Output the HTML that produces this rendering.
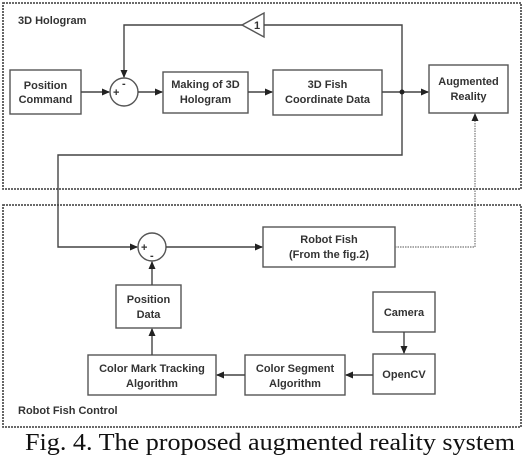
<!DOCTYPE html>
<html><head><meta charset="utf-8"><style>
html,body{margin:0;padding:0;background:#fff;}
svg{display:block;}
text{font-family:"Liberation Sans",Arial,sans-serif;font-weight:bold;font-size:11px;fill:#333;}
</style></head><body>
<svg width="524" height="456" viewBox="0 0 524 456" xmlns="http://www.w3.org/2000/svg">
<defs>
<marker id="a" markerWidth="8" markerHeight="8" refX="7" refY="4" orient="auto" markerUnits="userSpaceOnUse">
<path d="M0,0.5 L8,4 L0,7.5 z" fill="#222"/></marker>
</defs>
<g fill="none" stroke="#555" stroke-width="1.8" stroke-dasharray="2,1">
<rect x="3" y="3" width="518" height="186"/>
<rect x="3" y="205" width="518" height="222"/>
</g>
<g fill="#fff" stroke="#555" stroke-width="1.4">
<rect x="10" y="70" width="71" height="44"/>
<rect x="163" y="72" width="85" height="41"/>
<rect x="273" y="70" width="109" height="45"/>
<rect x="429" y="65" width="79" height="48"/>
<circle cx="124" cy="92" r="14"/>
<path d="M242,25 L264,13 L264,37 z"/>
<rect x="263" y="227" width="132" height="40"/>
<circle cx="152" cy="247" r="14"/>
<rect x="116" y="285" width="65" height="43"/>
<rect x="373" y="292" width="62" height="40"/>
<rect x="373" y="354" width="62" height="40"/>
<rect x="245" y="355" width="100" height="40"/>
<rect x="88" y="355" width="128" height="40"/>
</g>
<g fill="none" stroke="#444" stroke-width="1.4">
<line x1="81" y1="92" x2="109" y2="92" marker-end="url(#a)"/>
<line x1="138" y1="92" x2="162" y2="92" marker-end="url(#a)"/>
<line x1="248" y1="92" x2="272" y2="92" marker-end="url(#a)"/>
<line x1="382" y1="92" x2="428" y2="92" marker-end="url(#a)"/>
<polyline points="242,25 124,25 124,77" marker-end="url(#a)"/>
<polyline points="264,25 402,25 402,155 58,155 58,247 137,247" marker-end="url(#a)"/>
<line x1="166" y1="247" x2="262" y2="247" marker-end="url(#a)"/>
<line x1="152" y1="285" x2="152" y2="262" marker-end="url(#a)"/>
<line x1="152" y1="355" x2="152" y2="329" marker-end="url(#a)"/>
<line x1="404" y1="332" x2="404" y2="353" marker-end="url(#a)"/>
<line x1="373" y1="375" x2="346" y2="375" marker-end="url(#a)"/>
<line x1="245" y1="375" x2="217" y2="375" marker-end="url(#a)"/>
</g>
<polyline points="395,247 475,247 475,114" fill="none" stroke="#777" stroke-width="1.2" stroke-dasharray="1.5,1" marker-end="url(#a)"/>
<circle cx="402" cy="92" r="2.5" fill="#222"/>
<text x="113" y="96" font-size="8">+</text>
<text x="122" y="87" font-size="8">-</text>
<text x="141" y="251" font-size="8">+</text>
<text x="150" y="259" font-size="9">-</text>
<text x="257" y="29" font-size="9" text-anchor="middle">1</text>
<text x="18" y="24">3D Hologram</text>
<text x="18" y="414">Robot Fish Control</text>
<g text-anchor="middle">
<text x="45.5" y="89">Position</text><text x="45.5" y="103">Command</text>
<text x="205.5" y="88">Making of 3D</text><text x="205.5" y="103">Hologram</text>
<text x="327.5" y="88">3D Fish</text><text x="327.5" y="103">Coordinate Data</text>
<text x="468.5" y="85">Augmented</text><text x="468.5" y="100">Reality</text>
<text x="329" y="243">Robot Fish</text><text x="329" y="258">(From the fig.2)</text>
<text x="148.5" y="303">Position</text><text x="148.5" y="318">Data</text>
<text x="404" y="316">Camera</text>
<text x="404" y="378">OpenCV</text>
<text x="295" y="372">Color Segment</text><text x="295" y="387">Algorithm</text>
<text x="152" y="372">Color Mark Tracking</text><text x="152" y="387">Algorithm</text>
</g>
<text x="25" y="450" textLength="490" lengthAdjust="spacingAndGlyphs" style="font-family:'Liberation Serif',serif;font-weight:normal;font-size:24px;fill:#111">Fig. 4. The proposed augmented reality system</text>
</svg>
</body></html>
